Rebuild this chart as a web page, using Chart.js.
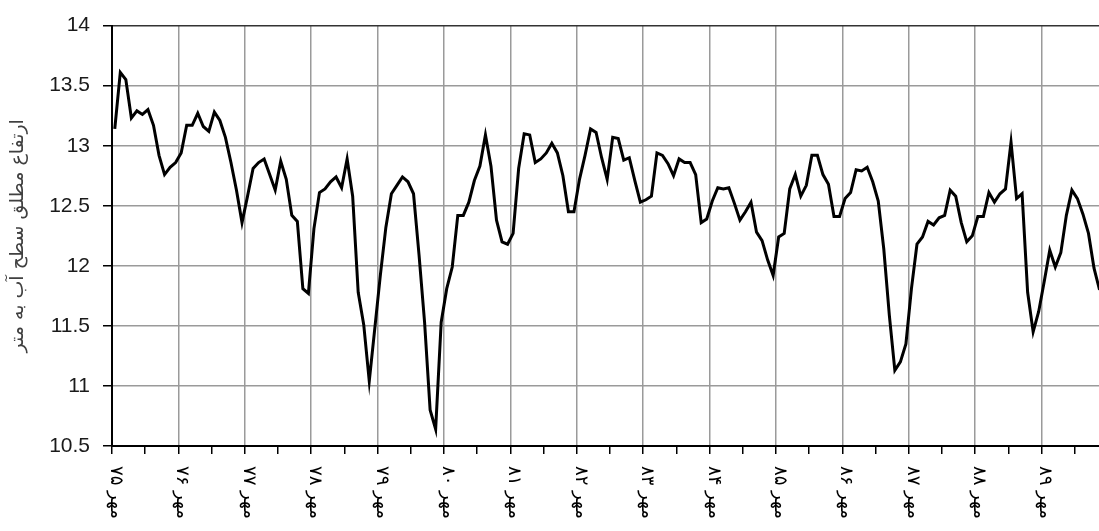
<!DOCTYPE html>
<html>
<head>
<meta charset="utf-8">
<script src="https://cdn.jsdelivr.net/npm/chart.js@4.4.1/dist/chart.umd.min.js"></script>
<style>
html,body{margin:0;padding:0;background:#fff;overflow:hidden}
canvas{display:block}
</style>
</head>
<body>
<canvas id="c" width="1099" height="531"></canvas>
<script>
// Tick labels on the x axis (one per year, every 12 months)
const tickLabels = ['مهر ۷۵','مهر ۷۶','مهر ۷۷','مهر ۷۸','مهر ۷۹','مهر ۸۰','مهر ۸۱','مهر ۸۲','مهر ۸۳','مهر ۸۴','مهر ۸۵','مهر ۸۶','مهر ۸۷','مهر ۸۸','مهر ۸۹'];
const yTitle = 'ارتفاع مطلق سطح آب به متر';
const yMin = 10.5, yMax = 14, yStep = 0.5;
const monthsShown = 178.4;

// Monthly absolute water level (m)
const waterLevel = [
 13.14,13.61,13.55,13.23,13.29,13.26,13.30,13.17,12.92,12.76,12.82,12.86,
 12.94,13.17,13.17,13.27,13.16,13.12,13.28,13.21,13.07,12.86,12.63,12.36,
 12.58,12.81,12.86,12.89,12.76,12.63,12.87,12.72,12.42,12.37,11.81,11.77,
 12.31,12.61,12.64,12.70,12.74,12.65,12.89,12.58,11.78,11.51,11.04,11.48,
 11.92,12.32,12.60,12.67,12.74,12.70,12.60,12.09,11.53,10.80,10.64,11.53,
 11.81,11.99,12.42,12.42,12.53,12.71,12.83,13.09,12.83,12.38,12.20,12.18,
 12.27,12.81,13.10,13.09,12.86,12.89,12.94,13.02,12.94,12.75,12.45,12.45,
 12.72,12.92,13.14,13.11,12.90,12.72,13.07,13.06,12.88,12.90,12.71,12.53,
 12.55,12.58,12.94,12.92,12.85,12.75,12.89,12.86,12.86,12.76,12.36,12.39,
 12.54,12.65,12.64,12.65,12.52,12.38,12.45,12.53,12.28,12.21,12.05,11.92,
 12.24,12.27,12.64,12.76,12.58,12.67,12.92,12.92,12.76,12.68,12.41,12.41,
 12.56,12.61,12.80,12.79,12.82,12.70,12.54,12.14,11.59,11.13,11.20,11.35,
 11.81,12.18,12.24,12.37,12.34,12.40,12.42,12.63,12.58,12.36,12.20,12.25,
 12.41,12.41,12.61,12.53,12.60,12.64,13.03,12.56,12.60,11.78,11.45,11.62,
 11.87,12.13,11.99,12.11,12.42,12.63,12.56,12.43,12.27,11.98,11.80
];

const points = waterLevel.map((v, i) => ({x: i + 0.5, y: v}));

const xLabelPlugin = {
  id: 'xLabels',
  afterDraw(chart) {
    const sc = chart.scales.x;
    const ctx = chart.ctx;
    ctx.save();
    ctx.font = '18px "DejaVu Sans"';
    ctx.fillStyle = '#000';
    ctx.textAlign = 'left';
    ctx.textBaseline = 'alphabetic';
    tickLabels.forEach((lab, k) => {
      const x = sc.getPixelForValue(k * 12);
      ctx.save();
      ctx.translate(x - 1, sc.top + 20);
      ctx.rotate(Math.PI / 2);
      ctx.fillText(lab, 0, 0);
      ctx.restore();
    });
    ctx.restore();
  }
};

new Chart(document.getElementById('c'), {
  type: 'line',
  data: {
    datasets: [{
      data: points,
      borderColor: '#000',
      borderWidth: 3,
      pointRadius: 0,
      tension: 0,
      fill: false
    }]
  },
  options: {
    responsive: false,
    animation: false,
    devicePixelRatio: 1,
    layout: {padding: {top: 23, left: 0, right: 0, bottom: 0}},
    plugins: {legend: {display: false}, tooltip: {enabled: false}},
    scales: {
      x: {
        type: 'linear',
        min: 0,
        max: monthsShown,
        afterBuildTicks(scale) {
          const t = [];
          for (let v = 0; v <= scale.max; v += 6) t.push({value: v});
          scale.ticks = t;
        },
        afterFit(scale) { scale.height = 85; },
        ticks: {display: false},
        grid: {
          color: (c) => (c.tick && c.tick.value % 12 === 0) ? '#9a9a9a' : 'rgba(0,0,0,0)',
          lineWidth: 1.5,
          tickColor: '#000',
          tickLength: 8,
          tickWidth: 1.5
        },
        border: {color: '#000', width: 2}
      },
      y: {
        min: yMin,
        max: yMax,
        afterFit(scale) { scale.width = 112; },
        ticks: {
          stepSize: yStep,
          padding: 13,
          color: '#1a1a1a',
          font: {family: '"Liberation Sans", Arial, sans-serif', size: 21},
          callback: (v) => String(Number(v))
        },
        grid: {
          color: (c) => (c.tick && c.tick.value === yMax) ? '#333' : '#9a9a9a',
          lineWidth: 1.5,
          tickColor: '#000',
          tickLength: 9,
          tickWidth: 1.5
        },
        border: {color: '#000', width: 2},
        title: {
          display: true,
          text: yTitle,
          color: '#404040',
          font: {family: '"DejaVu Sans", sans-serif', size: 19},
          padding: {top: 7, bottom: 0}
        }
      }
    }
  },
  plugins: [xLabelPlugin]
});
</script>
</body>
</html>
